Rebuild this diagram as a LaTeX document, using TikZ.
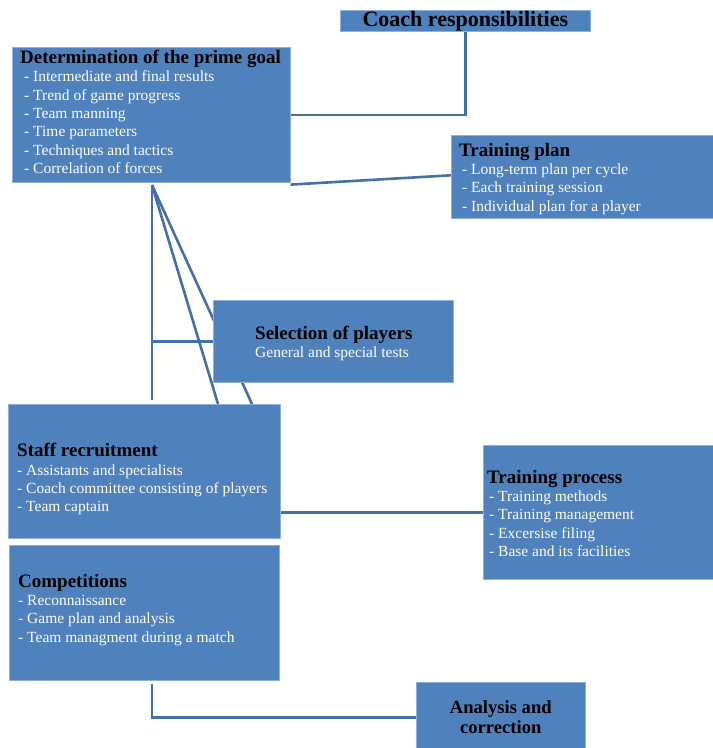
\documentclass[tikz,border=0pt]{standalone}
\usepackage{fontspec}
\setmainfont{Liberation Serif}
\usetikzlibrary{calc,backgrounds}
\definecolor{boxblue}{HTML}{4F81BD}
\definecolor{boxedge}{HTML}{8FB0D8}
\definecolor{linkblue}{HTML}{4470A8}
\newcommand{\ttl}[1]{{\fontsize{19}{18.3}\selectfont\bfseries\color{black}#1}}
\tikzset{
  box/.style={draw=boxedge, fill=boxblue, line width=0.6pt, inner sep=0pt, anchor=north west},
  txt/.style={anchor=west, align=left, inner sep=0pt, text=white, font=\fontsize{15.5}{18.3}\selectfont},
  conn/.style={draw=linkblue, line width=2.6pt}
}
\begin{document}
\begin{tikzpicture}[x=1pt,y=-1pt]
\useasboundingbox (0,0) rectangle (713,748);
% boxes
\node[box, minimum width=250, minimum height=21] (coach) at (340,10) {};
\node[box, minimum width=278, minimum height=135] (goal) at (12,47) {};
\node[box, minimum width=262, minimum height=83] (plan) at (451,135) {};
\node[box, minimum width=240, minimum height=82] (sel) at (213,300) {};
\node[box, minimum width=272, minimum height=134] (staff) at (8,404) {};
\node[box, minimum width=230, minimum height=134] (proc) at (483,445) {};
\node[box, minimum width=270, minimum height=135] (comp) at (9,545) {};
\node[box, minimum width=169, minimum height=70] (ana) at (416,682) {};
\coordinate (hub) at (152,185);
\coordinate (slantA) at ($(staff.north west)+(210,0)$);
\coordinate (slantB) at ($(staff.north west)+(244,0)$);
% connectors, behind the boxes
\begin{scope}[on background layer]
\draw[conn] (goal.east) -- (coach.south |- goal.east) -- (coach.south);
\draw[conn] ([yshift=-2pt]goal.south east) -- ([yshift=1.5pt]plan.west);
\draw[conn] (hub) -- ([yshift=4pt]hub |- staff.north);
\draw[conn] (hub) -- (slantA);
\draw[conn] (hub) -- (slantB);
\draw[conn] (hub |- sel.west) -- (sel.west);
\draw[conn] (staff.east |- proc.west) -- (proc.west);
\draw[conn] ([yshift=-3pt]hub |- comp.south) -- (hub |- ana.west) -- (ana.west);
\end{scope}
% texts
\node[anchor=center, inner sep=0pt, font=\fontsize{22}{24}\selectfont\bfseries] (coachT) at ([yshift=-0.5pt]coach.center) {Coach responsibilities};
\node[txt] (goalT) at ([xshift=8pt,yshift=3pt]goal.west) {\ttl{Determination of the prime goal}\\
\hspace*{4pt}- Intermediate and final results\\
\hspace*{4pt}- Trend of game progress\\
\hspace*{4pt}- Team manning\\
\hspace*{4pt}- Time parameters\\
\hspace*{4pt}- Techniques and tactics\\
\hspace*{4pt}- Correlation of forces};
\node[txt] (planT) at ([xshift=8pt,yshift=-2pt]plan.west) {\ttl{Training plan}\\
\hspace*{3pt}- Long-term plan per cycle\\
\hspace*{3pt}- Each training session\\
\hspace*{3pt}- Individual plan for a player};
\node[txt] (selT) at ([xshift=42pt,yshift=-2pt]sel.west) {\ttl{Selection of players}\\
General and special tests};
\node[txt] (staffT) at ([xshift=9pt,yshift=-8pt]staff.west) {\ttl{Staff recruitment}\\
- Assistants and specialists\\
- Coach committee consisting of players\\
- Team captain};
\node[txt] (procT) at ([xshift=4pt,yshift=-1pt]proc.west) {\ttl{Training process}\\
\hspace*{2pt}- Training methods\\
\hspace*{2pt}- Training management\\
\hspace*{2pt}- Excersise filing\\
\hspace*{2pt}- Base and its facilities};
\node[txt] (compT) at ([xshift=9pt,yshift=3pt]comp.west) {\ttl{Competitions}\\
- Reconnaissance\\
- Game plan and analysis\\
- Team managment during a match};
\node[anchor=center, align=center, inner sep=0pt, font=\fontsize{18.6}{20}\selectfont\bfseries] (anaT) at (ana.center) {Analysis and\\correction};
\end{tikzpicture}
\end{document}
